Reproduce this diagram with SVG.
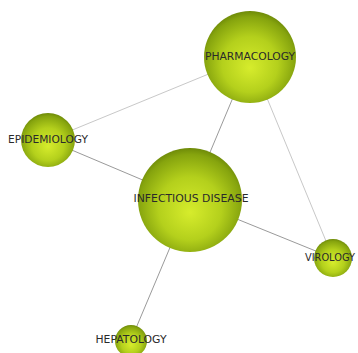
<svg xmlns="http://www.w3.org/2000/svg" width="358" height="353" viewBox="0 0 358 353">
<defs>
<radialGradient id="ball" cx="50%" cy="55%" r="55%" fx="50%" fy="62%">
<stop offset="0" stop-color="#d6ec2c"/>
<stop offset="0.55" stop-color="#b4d01c"/>
<stop offset="0.9" stop-color="#86a40e"/>
<stop offset="1" stop-color="#6e8a08"/>
</radialGradient>
<style>
.n{fill:url(#ball)}
.t{font-family:"DejaVu Sans",Verdana,sans-serif;font-size:10px;fill:#2a2a2a;text-anchor:middle;dominant-baseline:central}
.e{stroke:#c8c8c8;stroke-width:1;fill:none}
.d{stroke:#9a9a9a;stroke-width:1;fill:none}
</style>
</defs>
<rect width="358" height="353" fill="#ffffff"/>
<g id="connectors">
<line class="e" x1="250" y1="57" x2="48" y2="140"/>
<line class="d" x1="250" y1="57" x2="190" y2="200"/>
<line class="e" x1="250" y1="57" x2="333" y2="258"/>
<line class="d" x1="48" y1="140" x2="190" y2="200"/>
<line class="d" x1="190" y1="200" x2="333" y2="258"/>
<line class="d" x1="190" y1="200" x2="131" y2="340"/>
</g>
<g id="pharmacology"><circle class="n" cx="250" cy="57" r="46"/><text class="t" x="250" y="56" textLength="90" lengthAdjust="spacingAndGlyphs">PHARMACOLOGY</text></g>
<g id="epidemiology"><circle class="n" cx="48" cy="140" r="27"/><text class="t" x="48" y="139" textLength="80" lengthAdjust="spacingAndGlyphs">EPIDEMIOLOGY</text></g>
<g id="infectious-disease"><circle class="n" cx="190" cy="200" r="52"/><text class="t" x="191" y="198" textLength="115" lengthAdjust="spacingAndGlyphs">INFECTIOUS DISEASE</text></g>
<g id="virology"><circle class="n" cx="333" cy="258" r="19"/><text class="t" x="330" y="257" textLength="50" lengthAdjust="spacingAndGlyphs">VIROLOGY</text></g>
<g id="hepatology"><circle class="n" cx="131" cy="341" r="16"/><text class="t" x="131" y="339" textLength="71" lengthAdjust="spacingAndGlyphs">HEPATOLOGY</text></g>
</svg>
